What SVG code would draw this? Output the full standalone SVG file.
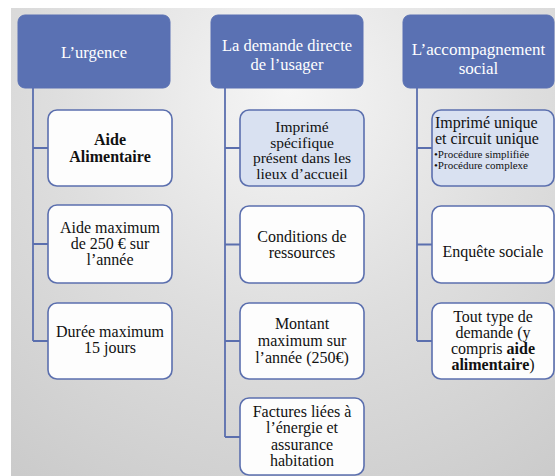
<svg xmlns="http://www.w3.org/2000/svg" width="555" height="476" viewBox="0 0 555 476">
<defs>
<radialGradient id="bg" cx="290" cy="90" r="470" gradientUnits="userSpaceOnUse">
<stop offset="0" stop-color="#f6f6f6"/>
<stop offset="0.5" stop-color="#dedede"/>
<stop offset="1" stop-color="#cbcbcb"/>
</radialGradient>
<style>
.hd{fill:#5a71b3;stroke:#5a71b3;stroke-width:1}
.bx{fill:#fdfdfd;stroke:#5b6fae;stroke-width:1.6}
.bl{fill:#d9e1f1;stroke:#5b6fae;stroke-width:1.6}
text{font-family:'Liberation Serif','DejaVu Serif','Times New Roman',serif}
.ht{font-size:16.5px;fill:#ffffff;text-anchor:middle}
.t{font-size:16px;fill:#111111;text-anchor:middle}
.s{text-anchor:start}
.b{font-weight:bold}
.cn{fill:none;stroke:#5b6fae;stroke-width:1.8}
</style>
</defs>
<rect x="0" y="0" width="555" height="476" fill="#ffffff"/>
<rect x="11" y="8" width="544" height="468" fill="url(#bg)"/>

<g id="connectors">
<path class="cn" d="M33,88 V341 M33,148 H48 M33,244 H48 M33,341 H48"/>
<path class="cn" d="M225,88 V437 M225,148 H240 M225,244.5 H240 M225,341 H240 M225,437 H240"/>
<path class="cn" d="M417,88 V341 M417,148 H432 M417,244.5 H432 M417,341 H432"/>
</g>

<g id="h1">
<rect class="hd" x="18" y="15" width="152" height="73" rx="7"/>
<text class="ht" x="94" y="58">L’urgence</text>
</g>
<g id="h2">
<rect class="hd" x="211" y="15" width="152" height="73" rx="7"/>
<text class="ht" x="287" y="51">La demande directe</text>
<text class="ht" x="287" y="69.5">de l’usager</text>
</g>
<g id="h3">
<rect class="hd" x="403" y="15" width="151" height="73" rx="7"/>
<text class="ht" x="478.5" y="55" style="font-size:17px">L’accompagnement</text>
<text class="ht" x="478.5" y="74" style="font-size:17px">social</text>
</g>

<g id="c1b1">
<rect class="bx" x="48" y="110" width="124" height="76" rx="9"/>
<text class="t b" x="110" y="145">Aide</text>
<text class="t b" x="110" y="162">Alimentaire</text>
</g>
<g id="c1b2">
<rect class="bx" x="48" y="205" width="124" height="78" rx="9"/>
<text class="t" x="110" y="233">Aide maximum</text>
<text class="t" x="110" y="249">de 250 € sur</text>
<text class="t" x="110" y="265">l’année</text>
</g>
<g id="c1b3">
<rect class="bx" x="48" y="303" width="124" height="76" rx="9"/>
<text class="t" x="110" y="337">Durée maximum</text>
<text class="t" x="110" y="353">15 jours</text>
</g>

<g id="c2b1">
<rect class="bl" x="240" y="110" width="124" height="76" rx="9"/>
<text class="t" x="302" y="132" style="font-size:15.5px">Imprimé</text>
<text class="t" x="302" y="147.5" style="font-size:15.5px">spécifique</text>
<text class="t" x="302" y="163" style="font-size:15.5px">présent dans les</text>
<text class="t" x="302" y="178.5" style="font-size:15.5px">lieux d’accueil</text>
</g>
<g id="c2b2">
<rect class="bx" x="240" y="206" width="124" height="77" rx="9"/>
<text class="t" x="302" y="242">Conditions de</text>
<text class="t" x="302" y="258">ressources</text>
</g>
<g id="c2b3">
<rect class="bx" x="240" y="303" width="124" height="76" rx="9"/>
<text class="t" x="302" y="329">Montant</text>
<text class="t" x="302" y="346">maximum sur</text>
<text class="t" x="302" y="363">l’année (250€)</text>
</g>
<g id="c2b4">
<rect class="bx" x="240" y="398" width="124" height="77" rx="9"/>
<text class="t" x="302" y="417">Factures liées à</text>
<text class="t" x="302" y="433">l’énergie et</text>
<text class="t" x="302" y="450">assurance</text>
<text class="t" x="302" y="466">habitation</text>
</g>

<g id="c3b1">
<rect class="bl" x="432" y="110" width="122" height="76" rx="9"/>
<text class="t s" x="435" y="128" style="font-size:16px">Imprimé unique</text>
<text class="t s" x="435" y="144" style="font-size:16px">et circuit unique</text>
<text class="t s" x="434" y="158" style="font-size:11px">•Procédure simplifiée</text>
<text class="t s" x="434" y="169" style="font-size:11px">•Procédure complexe</text>
</g>
<g id="c3b2">
<rect class="bx" x="432" y="206" width="122" height="77" rx="9"/>
<text class="t" x="493" y="257">Enquête sociale</text>
</g>
<g id="c3b3">
<rect class="bx" x="432" y="303" width="122" height="76" rx="9"/>
<text class="t" x="493" y="322">Tout type de</text>
<text class="t" x="493" y="338">demande (y</text>
<text class="t" x="493" y="354">compris <tspan class="b">aide</tspan></text>
<text class="t b" x="493" y="370">alimentaire<tspan style="font-weight:normal">)</tspan></text>
</g>
</svg>
